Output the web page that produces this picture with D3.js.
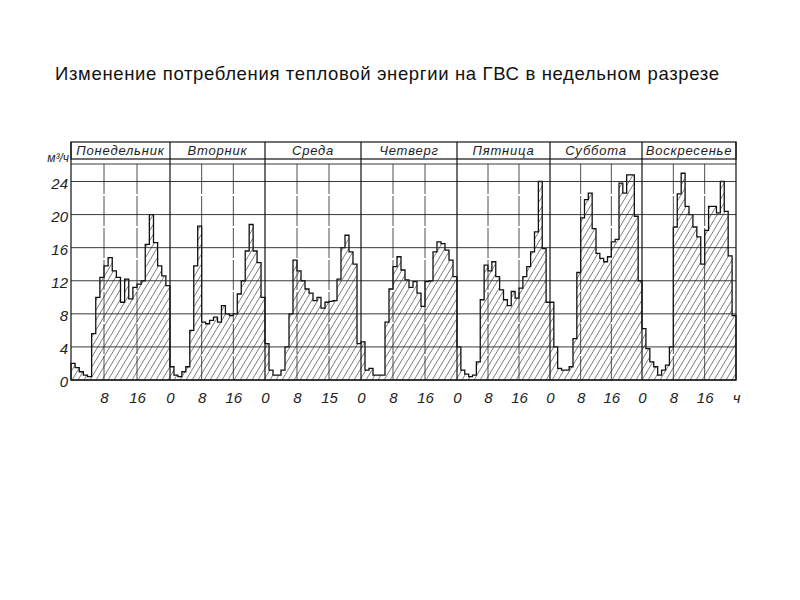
<!DOCTYPE html>
<html>
<head>
<meta charset="utf-8">
<script src="https://cdn.jsdelivr.net/npm/d3@7"></script>
<style>
    body { margin: 0; background: #fff; }
    svg { display: block; }
</style>
</head>
<body>
<div id="vis"></div>
<script>
// Constants for the figure
const FRAME_WIDTH = 800;
const FRAME_HEIGHT = 600;

// day boundaries on the page (the hand drawn original is not even)
const DAY_EDGES = [71, 170, 265, 361, 457, 550, 642, 736];
const BASE_Y = 380;
const TOP_24_Y = 181.5;
const HEADER_TOP = 142;
const HEADER_BOTTOM = 159;
const GRID_TOP = 164;

// data: hourly hot water consumption, m3/h
const DAYS = ["Понедельник", "Вторник", "Среда", "Четверг", "Пятница", "Суббота", "Воскресенье"];
const MON = [2, 1.5, 1, 0.6, 0.4, 5.6, 10, 12.4, 13.8, 14.8, 13.2, 12.4, 9.4, 12.2, 9.8, 11.2, 11.6, 12, 16.4, 20, 16.6, 13.8, 12.6, 11.4];
const TUE = [1.6, 0.6, 0.4, 1, 1.6, 6, 13.8, 18.6, 7, 6.8, 7.2, 7.6, 7, 9, 8, 7.8, 8, 10.4, 12, 15.6, 18.8, 15.6, 14.2, 10];
const WED = [4.4, 1.2, 0.6, 0.6, 1.2, 4, 8, 14.5, 13.2, 12, 11, 10.5, 9.6, 10, 8.7, 9.4, 9.5, 9.6, 12.2, 16, 17.5, 15.5, 14, 4.4];
const THU = [4.6, 1.2, 1.4, 0.6, 0.6, 0.6, 7, 11, 13.7, 14.9, 13.3, 12.1, 11.2, 11.9, 10.5, 8.9, 11.9, 12, 15.5, 16.7, 16.5, 15.7, 14.5, 12.5];
const FRI = [4, 1.2, 0.7, 0.4, 0.6, 2.2, 9.7, 13.9, 13.2, 14.3, 12.5, 10.9, 9.7, 9, 10.7, 9.9, 11.1, 12.5, 13.7, 15.5, 17.9, 24, 15.9, 9.4];
const SAT = [9.4, 4, 1.4, 1.2, 1.2, 1.6, 5, 13, 19.6, 21.8, 22.6, 18.3, 15.3, 14.7, 14.3, 14.9, 16.7, 17, 23.8, 22.6, 24.8, 24.8, 19.8, 12];
const SUN = [6.2, 3.8, 2.2, 1.6, 0.6, 1.2, 1.8, 4, 18.5, 22.5, 25, 21, 20, 18.5, 17.3, 14, 18.1, 21, 21, 20.2, 24, 20.4, 15, 7.8];

const Y_TICKS = [0, 4, 8, 12, 16, 20, 24];
const X_TICK_HOURS = [8, 16, 24, 32, 40, 48, 56, 64, 72, 80, 88, 96, 104, 112, 120, 128, 136, 144, 152, 160, 168];
const X_TICK_LABELS = ["8", "16", "0", "8", "16", "0", "8", "15", "0", "8", "16", "0", "8", "16", "0", "8", "16", "0", "8", "16", "ч"];

const TITLE = "Изменение потребления тепловой энергии на ГВС в недельном разрезе";

const FRAME = d3.select("#vis")
    .append("svg")
    .attr("width", FRAME_WIDTH)
    .attr("height", FRAME_HEIGHT);

// scales
const X_SCALE = d3.scaleLinear()
    .domain(d3.range(0, 169, 24))
    .range(DAY_EDGES);
const Y_SCALE = d3.scaleLinear()
    .domain([0, 24])
    .range([BASE_Y, TOP_24_Y]);

// hatch pattern ///
FRAME.append("defs")
    .append("pattern")
    .attr("id", "hatch")
    .attr("patternUnits", "userSpaceOnUse")
    .attr("width", 6)
    .attr("height", 10)
    .append("path")
    .attr("d", "M-6,10 L0,0 M0,10 L6,0 M6,10 L12,0")
    .attr("stroke", "#444")
    .attr("stroke-width", 0.7);

// title
FRAME.append("text")
    .attr("x", 55)
    .attr("y", 80)
    .attr("font-family", "Liberation Sans, Arial, sans-serif")
    .attr("font-size", "18.5px")
    .attr("letter-spacing", "0.65px")
    .attr("fill", "#111")
    .text(TITLE);

// hourly series as one step area
const HOURLY = [MON, TUE, WED, THU, FRI, SAT, SUN].flat();
const POINTS = HOURLY.map((v, i) => ({h: i, v: v}));
POINTS.push({h: HOURLY.length, v: HOURLY[HOURLY.length - 1]});

const AREA = d3.area()
    .curve(d3.curveStepAfter)
    .x((d) => X_SCALE(d.h))
    .y0(Y_SCALE(0))
    .y1((d) => Y_SCALE(d.v));

FRAME.append("path")
    .datum(POINTS)
    .attr("d", AREA)
    .attr("fill", "url(#hatch)")
    .attr("stroke", "#111")
    .attr("stroke-width", 1.3)
    .attr("stroke-linejoin", "miter");

// horizontal grid
const GRID = FRAME.append("g")
    .attr("stroke", "#222")
    .attr("stroke-width", 0.9);
GRID.selectAll("line.h")
    .data(Y_TICKS)
    .enter()
    .append("line")
    .attr("x1", DAY_EDGES[0])
    .attr("x2", DAY_EDGES[7])
    .attr("y1", (d) => Y_SCALE(d))
    .attr("y2", (d) => Y_SCALE(d));
GRID.append("line")
    .attr("x1", DAY_EDGES[0]).attr("x2", DAY_EDGES[7])
    .attr("y1", GRID_TOP).attr("y2", GRID_TOP);

// hour 8 and 16 lines
GRID.selectAll("line.hr")
    .data(X_TICK_HOURS.filter((h) => h % 24 != 0))
    .enter()
    .append("line")
    .attr("x1", (d) => X_SCALE(d))
    .attr("x2", (d) => X_SCALE(d))
    .attr("y1", GRID_TOP)
    .attr("y2", BASE_Y)
    .attr("stroke-width", 0.8)
    .attr("stroke-dasharray", "30 2");

// day separators and header box
GRID.selectAll("line.day")
    .data(d3.range(0, 169, 24))
    .enter()
    .append("line")
    .attr("x1", (d) => X_SCALE(d))
    .attr("x2", (d) => X_SCALE(d))
    .attr("y1", HEADER_TOP)
    .attr("y2", BASE_Y)
    .attr("stroke", "#111")
    .attr("stroke-width", 1.2);
FRAME.append("rect")
    .attr("x", DAY_EDGES[0])
    .attr("y", HEADER_TOP)
    .attr("width", DAY_EDGES[7] - DAY_EDGES[0])
    .attr("height", HEADER_BOTTOM - HEADER_TOP)
    .attr("fill", "none")
    .attr("stroke", "#111")
    .attr("stroke-width", 1.2);

// day names
FRAME.selectAll("text.day")
    .data(DAYS)
    .enter()
    .append("text")
    .attr("x", (d, i) => (X_SCALE(i * 24) + X_SCALE(i * 24 + 24)) / 2)
    .attr("y", HEADER_BOTTOM - 4)
    .attr("text-anchor", "middle")
    .attr("font-family", "Liberation Sans, Arial, sans-serif")
    .attr("font-style", "italic")
    .attr("font-size", "13px")
    .attr("letter-spacing", "0.8px")
    .attr("fill", "#222")
    .text((d) => d);

// axes
const Y_AXIS = FRAME.append("g")
    .attr("transform", "translate(" + DAY_EDGES[0] + ",0)")
    .call(d3.axisLeft(Y_SCALE).tickValues(Y_TICKS).tickSize(0).tickPadding(3));
const X_AXIS = FRAME.append("g")
    .attr("transform", "translate(0," + BASE_Y + ")")
    .call(d3.axisBottom(X_SCALE).tickValues(X_TICK_HOURS)
        .tickFormat((d, i) => X_TICK_LABELS[i]).tickSize(0).tickPadding(12));

[Y_AXIS, X_AXIS].forEach((ax) => {
    ax.select(".domain").remove();
    ax.selectAll("text")
        .attr("font-family", "Liberation Sans, Arial, sans-serif")
        .attr("font-style", "italic")
        .attr("font-size", "15px")
        .attr("fill", "#222");
});
Y_AXIS.selectAll("text").attr("dy", "0.45em");

// unit
FRAME.append("text")
    .attr("x", 69)
    .attr("y", 162)
    .attr("text-anchor", "end")
    .attr("font-family", "Liberation Sans, Arial, sans-serif")
    .attr("font-style", "italic")
    .attr("font-size", "12px")
    .attr("fill", "#222")
    .text("м³/ч");
</script>
</body>
</html>
